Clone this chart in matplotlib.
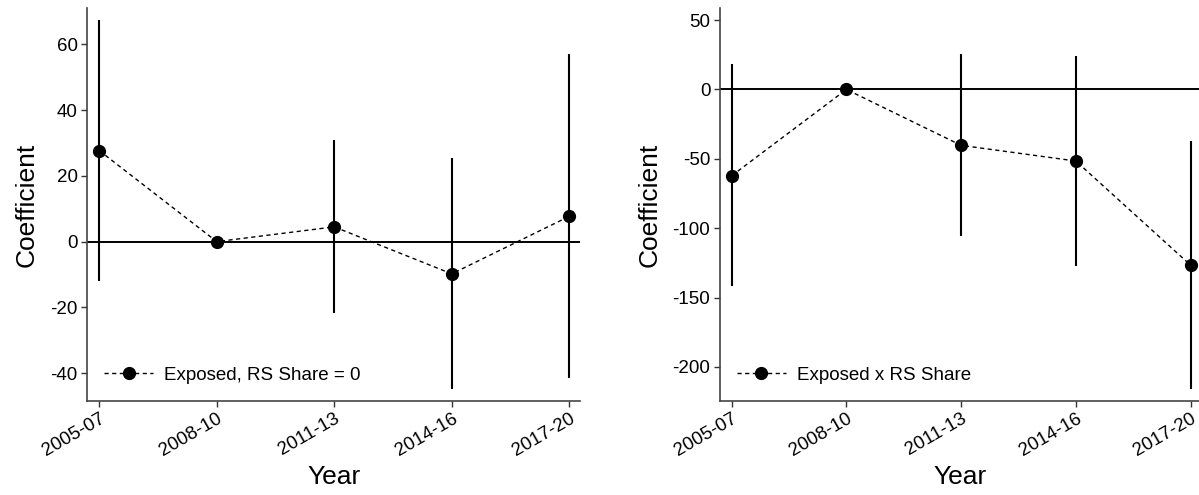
import numpy as np
import matplotlib.pyplot as plt

plt.rcParams['font.family'] = ['Liberation Sans', 'DejaVu Sans']
plt.rcParams['axes.unicode_minus'] = False

periods = ['2005-07', '2008-10', '2011-13', '2014-16', '2017-20']

# panel 1: Exposed, RS Share = 0
coef_a = [27.7, 0.0, 4.5, -9.8, 7.7]
lo_a = [-11.9, 0.0, -21.8, -44.9, -41.4]
hi_a = [67.4, 0.0, 30.8, 25.4, 57.0]

# panel 2: Exposed x RS Share
coef_b = [-62.2, 0.0, -40.3, -51.6, -126.7]
lo_b = [-141.4, 0.0, -105.6, -127.0, -216.0]
hi_b = [18.0, 0.0, 25.4, 24.2, -37.0]

fig = plt.figure(figsize=(11.99, 4.95), dpi=100)
ax1 = fig.add_axes([0.0728, 0.1905, 0.4109, 0.7927])
ax2 = fig.add_axes([0.6005, 0.1905, 0.4012, 0.7927])

x = np.arange(len(periods))


def panel(ax, coef, lo, hi, label, yticks, ylim):
    ax.axhline(0, color='black', lw=1.4, zorder=1)
    ax.vlines(x, lo, hi, color='black', lw=1.5, zorder=2)
    ax.plot(x, coef, ls=(0, (3, 2.5)), color='black', lw=1.0,
            marker='o', ms=8.5, mfc='black', mec='black', label=label, zorder=3)
    ax.set_xlim(-0.102, 4.091)
    ax.set_ylim(*ylim)
    ax.set_yticks(yticks)
    ax.set_xticks(x)
    ax.set_xticklabels(periods, rotation=30, ha='right', rotation_mode='anchor')
    ax.tick_params(labelsize=13.5, length=4, width=1, color='#333333', pad=3)
    for s in ['top', 'right']:
        ax.spines[s].set_visible(False)
    for s in ['left', 'bottom']:
        ax.spines[s].set_color('#444444')
        ax.spines[s].set_linewidth(1.2)
    ax.set_xlabel('Year', fontsize=19)
    ax.set_ylabel('Coefficient', fontsize=19, labelpad=8)
    ax.legend(loc='lower left', frameon=False, fontsize=13.5,
              handlelength=2.6, handletextpad=0.6, borderaxespad=0.5)


panel(ax1, coef_a, lo_a, hi_a, 'Exposed, RS Share = 0',
      [-40, -20, 0, 20, 40, 60], (-48.4, 71))
panel(ax2, coef_b, lo_b, hi_b, 'Exposed x RS Share',
      [-200, -150, -100, -50, 0, 50], (-224.4, 58.5))

fig.savefig('out.png', dpi=100)
